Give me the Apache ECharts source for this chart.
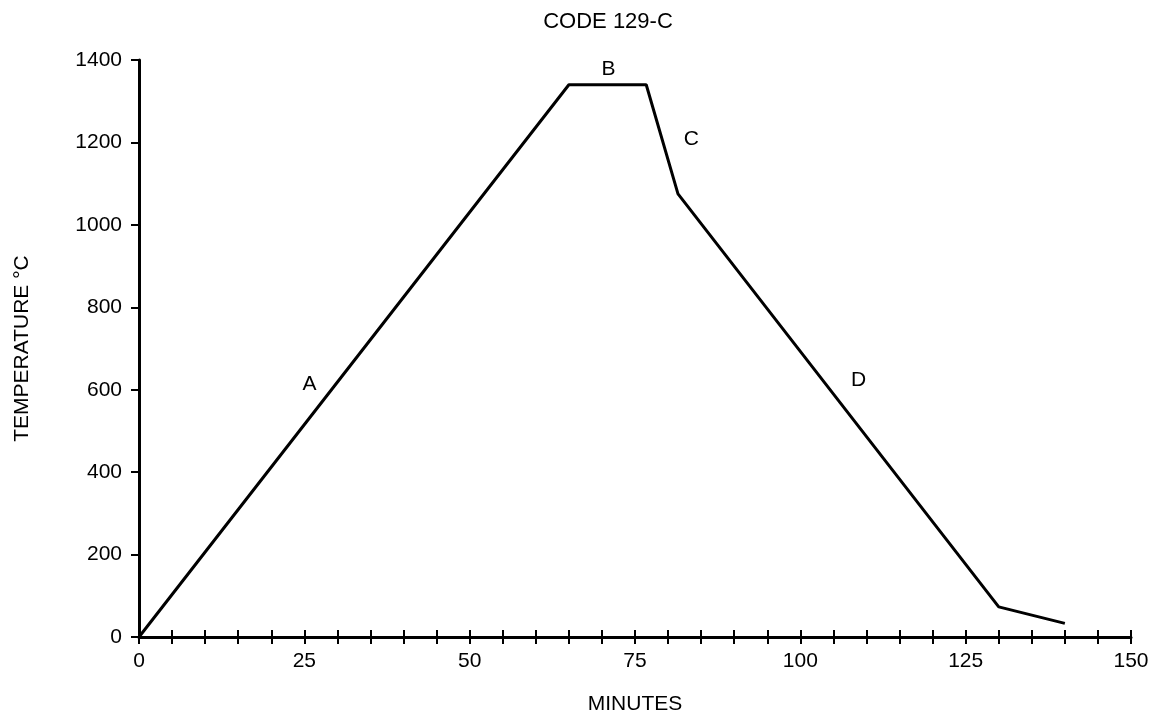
<!DOCTYPE html>
<html>
<head>
<meta charset="utf-8">
<script src="https://cdn.jsdelivr.net/npm/echarts@6/dist/echarts.min.js"></script>
<style>
html,body{margin:0;padding:0;background:#fff;}
#chart{width:1157px;height:720px;}
</style>
</head>
<body>
<div id="chart"></div>
<script>
// Data
var minutes = [0, 65, 76.7, 81.5, 130, 140];
var temps = [0, 1340, 1340, 1075, 73, 33];
var segmentNames = ['A', 'B', 'C', 'D'];
var segmentLabelMinutes = [25.8, 71, 83.5, 108.8];
var segmentLabelTemps = [614, 1378, 1207, 622];
var xTickLabels = [0, 25, 50, 75, 100, 125, 150];
var yTickLabels = [0, 200, 400, 600, 800, 1000, 1200, 1400];

var FONT = '"Liberation Sans", Arial, Helvetica, sans-serif';
var chart = echarts.init(document.getElementById('chart'), null, {renderer: 'canvas'});

var lineData = minutes.map(function (m, i) { return [m, temps[i]]; });
var labelData = segmentNames.map(function (n, i) {
  return {name: n, value: [segmentLabelMinutes[i], segmentLabelTemps[i]]};
});

var option = {
  backgroundColor: '#fff',
  animation: false,
  title: {
    text: 'CODE 129-C',
    left: 603,
    top: 6,
    textAlign: 'center',
    textStyle: {fontFamily: FONT, fontSize: 22, fontWeight: 'normal', color: '#000'}
  },
  grid: {left: 139, right: 26, top: 60, bottom: 79, containLabel: false},
  xAxis: [{
    type: 'value',
    min: 0, max: 150, interval: 5,
    position: 'bottom',
    name: 'MINUTES',
    nameLocation: 'middle',
    nameGap: 57,
    nameTextStyle: {fontFamily: FONT, fontSize: 21, color: '#000'},
    axisLine: {show: true, lineStyle: {color: '#000', width: 3}},
    axisTick: {show: true, inside: false, length: 7, lineStyle: {color: '#000', width: 2}},
    axisLabel: {
      fontFamily: FONT, fontSize: 21, color: '#000', margin: 14,
      formatter: function (v) { return xTickLabels.indexOf(v) >= 0 ? String(v) : ''; }
    },
    splitLine: {show: false}
  }, {
    type: 'value',
    min: 0, max: 150, interval: 5,
    position: 'bottom',
    axisLine: {show: false},
    axisTick: {show: true, inside: true, length: 7, lineStyle: {color: '#000', width: 2}},
    axisLabel: {show: false},
    splitLine: {show: false}
  }],
  yAxis: {
    type: 'value',
    min: 0, max: 1400, interval: 200,
    name: 'TEMPERATURE °C',
    nameLocation: 'middle',
    nameGap: 106,
    nameTextStyle: {fontFamily: FONT, fontSize: 21, color: '#000'},
    axisLine: {show: true, lineStyle: {color: '#000', width: 3}},
    axisTick: {show: true, inside: false, length: 8, lineStyle: {color: '#000', width: 2}},
    axisLabel: {
      fontFamily: FONT, fontSize: 21, color: '#000', margin: 17,
      formatter: function (v) { return yTickLabels.indexOf(v) >= 0 ? String(v) : ''; }
    },
    splitLine: {show: false}
  },
  series: [{
    type: 'line',
    data: lineData,
    symbol: 'none',
    lineStyle: {color: '#000', width: 3},
    z: 3
  }, {
    type: 'scatter',
    data: labelData,
    symbolSize: 0,
    label: {
      show: true,
      position: 'inside',
      formatter: function (p) { return p.name; },
      fontFamily: FONT, fontSize: 21, color: '#000', opacity: 1
    },
    emphasis: {disabled: true},
    z: 4
  }]
};
chart.setOption(option);
</script>
</body>
</html>
